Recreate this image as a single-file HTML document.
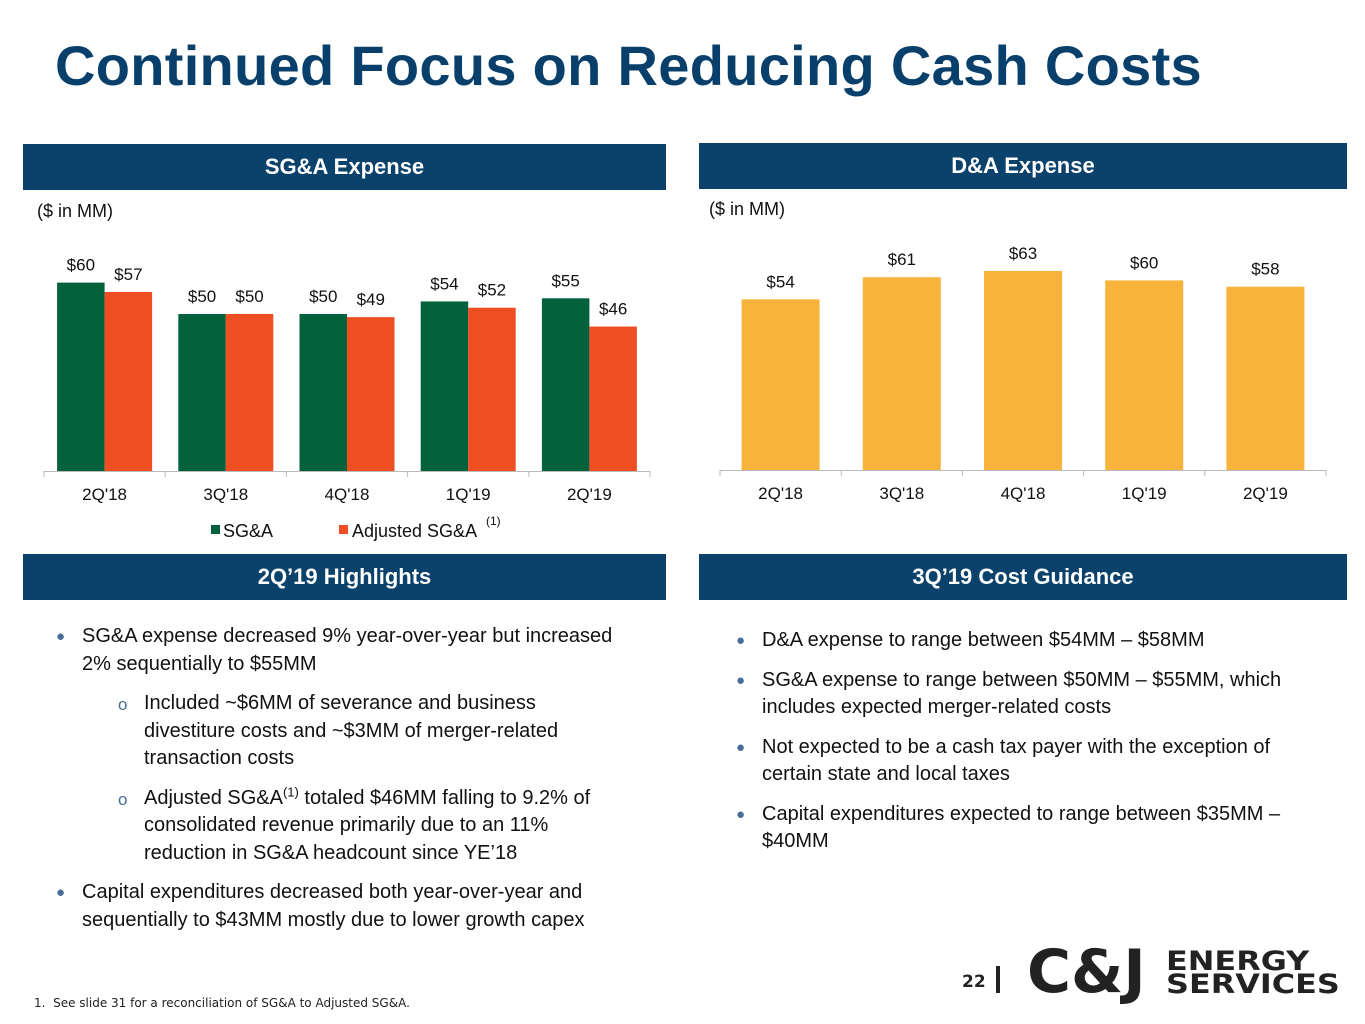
<!DOCTYPE html>
<html><head><meta charset="utf-8"><style>
body{margin:0;width:1365px;height:1024px;background:#fff;position:relative;overflow:hidden;font-family:"Liberation Sans",sans-serif;}
.abs{position:absolute}
h1{position:absolute;left:55px;top:33px;margin:0;font:bold 56px "Liberation Sans",sans-serif;color:#08406b;letter-spacing:0.3px}
.hdr{position:absolute;background:#0b426b;color:#fff;font:bold 22px "Liberation Sans",sans-serif;text-align:center;line-height:46px;height:46px}
.unit{position:absolute;font-size:18px;color:#111}
.txt{position:absolute;font-size:20px;line-height:27.5px;color:#111}
.b{position:relative;padding-left:26px}
.b:before{content:"●";position:absolute;left:0;top:0;font-size:15px;color:#4a6e98}
.s{position:relative;padding-left:88px}
.s:before{content:"o";position:absolute;left:62px;top:1px;font-size:17px;color:#4a6e98}
</style></head><body>
<h1>Continued Focus on Reducing Cash Costs</h1>
<div class="hdr" style="left:23px;top:144px;width:643px">SG&amp;A Expense</div>
<div class="hdr" style="left:699px;top:143px;width:648px">D&amp;A Expense</div>
<div class="unit" style="left:37px;top:201px">($ in MM)</div>
<div class="unit" style="left:709px;top:199px">($ in MM)</div>
<svg class="abs" style="left:0;top:0" width="1365" height="560" id="charts"></svg>
<div class="hdr" style="left:23px;top:554px;width:643px">2Q’19 Highlights</div>
<div class="hdr" style="left:699px;top:554px;width:648px">3Q’19 Cost Guidance</div>
<div class="txt" style="left:56px;top:623px;width:590px">
<div class="b">SG&amp;A expense decreased 9% year-over-year but increased 2% sequentially to $55MM</div>
<div class="s" style="margin-top:12px;width:460px">Included ~$6MM of severance and business divestiture costs and ~$3MM of merger-related transaction costs</div>
<div class="s" style="margin-top:12px;width:460px">Adjusted SG&amp;A<sup style="font-size:13px;line-height:0">(1)</sup> totaled $46MM falling to 9.2% of consolidated revenue primarily due to an 11% reduction in SG&amp;A headcount since YE’18</div>
<div class="b" style="margin-top:12px">Capital expenditures decreased both year-over-year and sequentially to $43MM mostly due to lower growth capex</div>
</div>
<div class="txt" style="left:736px;top:627px;width:575px">
<div class="b">D&amp;A expense to range between $54MM – $58MM</div>
<div class="b" style="margin-top:12px">SG&amp;A expense to range between $50MM – $55MM, which includes expected merger-related costs</div>
<div class="b" style="margin-top:12px;width:530px">Not expected to be a cash tax payer with the exception of certain state and local taxes</div>
<div class="b" style="margin-top:12px">Capital expenditures expected to range between $35MM – $40MM</div>
</div>
<div class="abs" style="left:34px;top:996px;font:12px 'DejaVu Sans',sans-serif;color:#222">1.&nbsp; See slide 31 for a reconciliation of SG&amp;A to Adjusted SG&amp;A.</div>
<div class="abs" style="left:962px;top:972px;font:bold 17px 'DejaVu Sans',sans-serif;color:#222">22</div>
<div class="abs" style="left:996px;top:966px;width:4px;height:27px;background:#222"></div>
<div class="abs" style="left:1027px;top:942px;font:900 60px 'DejaVu Sans',sans-serif;color:#222;letter-spacing:0px;line-height:60px">C&amp;J</div>
<div class="abs" style="left:1166px;top:950px;font:bold 27px 'DejaVu Sans',sans-serif;color:#222;line-height:23px;transform:scaleX(1.18);transform-origin:left top">ENERGY<br>SERVICES</div>
<script>
const sgaCats=["2Q'18","3Q'18","4Q'18","1Q'19","2Q'19"];
const sgaVals=[60,50,50,54,55];
const adjVals=[57,50,49,52,46];
const daCats=["2Q'18","3Q'18","4Q'18","1Q'19","2Q'19"];
const daVals=[54,61,63,60,58];
const svg=document.getElementById('charts');
const NS='http://www.w3.org/2000/svg';
function el(t,a,txt){const e=document.createElementNS(NS,t);for(const k in a)e.setAttribute(k,a[k]);if(txt!==undefined)e.textContent=txt;svg.appendChild(e);return e;}
function chart(x0,x1,base,scale,cats,series,colors,bw,names,prefix){
  const n=cats.length,step=(x1-x0)/n;
  const ln=el('line',{x1:x0,x2:x1,y1:base+0.5,y2:base+0.5,stroke:'#bbb'});
  
  
  for(let i=0;i<=n;i++){el('line',{x1:x0+i*step,x2:x0+i*step,y1:base,y2:base+6,stroke:'#bbb'});}
  cats.forEach((c,i)=>{
    const cx=x0+step*(i+0.5);
    const t=el('text',{x:cx,y:base+29,'text-anchor':'middle','font-size':17,fill:'#111'},c);
    
    
    const total=bw*series.length;
    series.forEach((s,j)=>{
      const h=s[i]*scale,bx=cx-total/2+j*bw;
      const r=el('rect',{x:bx,y:base-h,width:bw,height:h,fill:colors[j]});
      
      
      const lbl=el('text',{x:bx+bw/2,y:base-h-12,'text-anchor':'middle','font-size':17,fill:'#111'},'$'+s[i]);
      
      
    });
  });
}
chart(44,650,471,3.14,sgaCats,[sgaVals,adjVals],['#03613c','#ef4e23'],47.5,['sga','adjusted-sga'],'sga');
chart(720,1326,470,3.16,daCats,[daVals],['#f7b33c'],78,['da'],'da');
const l1=el('rect',{x:211,y:525,width:9,height:9,fill:'#03613c'});


const t1=el('text',{x:223,y:537,'font-size':18,fill:'#111'},'SG&A');


const l2=el('rect',{x:339,y:525,width:9,height:9,fill:'#ef4e23'});


const t2=el('text',{x:352,y:537,'font-size':18,fill:'#111'},'Adjusted SG&A');


el('text',{x:486,y:525,'font-size':12,fill:'#111'},'(1)');
</script>
</body></html>
